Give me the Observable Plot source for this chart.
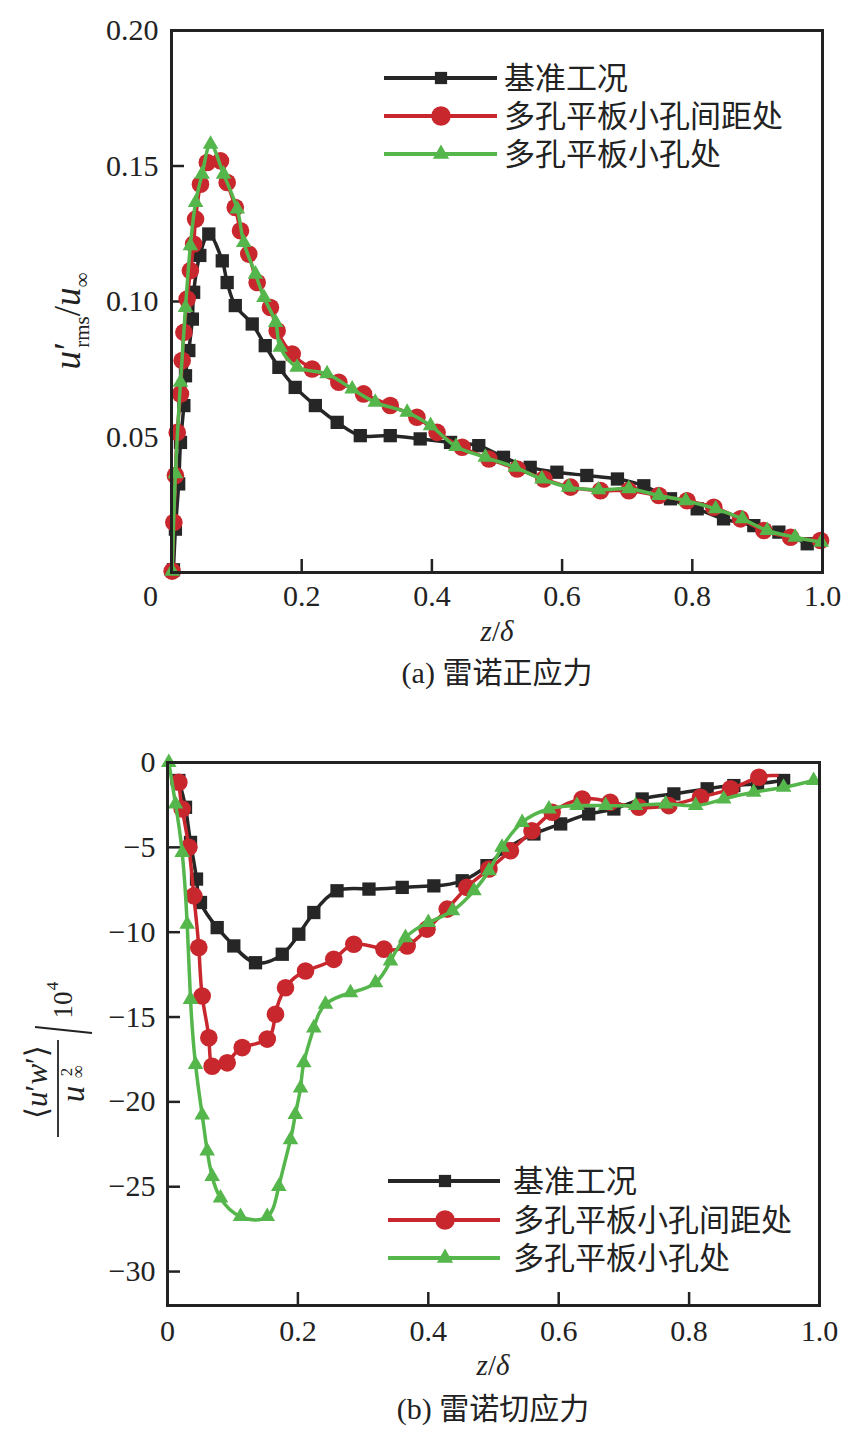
<!DOCTYPE html>
<html><head><meta charset="utf-8">
<script src="https://cdn.jsdelivr.net/npm/d3@7"></script>
<script src="https://cdn.jsdelivr.net/npm/@observablehq/plot@0.6"></script>
<style>
body{margin:0;background:#fff;}
#root{width:857px;}
#root svg{display:block;}
</style>
</head><body><div id="root"></div>
<script>
// ---------- data ----------
const seriesNames = ["基准工况", "多孔平板小孔间距处", "多孔平板小孔处"];
const seriesColors = ["#262626", "#c8272d", "#55b64c"];
const seriesSymbols = ["square", "circle", "triangle"];

// (a) Reynolds normal stress  u'rms/u∞  vs z/δ
const aBaseZ = [0.003,0.006,0.011,0.0138,0.019,0.0215,0.0266,0.032,0.034,0.0435,0.0573,0.078,0.0855,0.098,0.124,0.144,0.165,0.19,0.221,0.2545,0.29,0.336,0.382,0.4286,0.472,0.51,0.551,0.592,0.638,0.685,0.7255,0.7665,0.8075,0.848,0.8945,0.933,0.9765];
const aBaseV = [0.001,0.016,0.0327,0.048,0.0616,0.0726,0.0819,0.0935,0.1034,0.117,0.1249,0.115,0.107,0.0985,0.0917,0.0837,0.0757,0.0683,0.0616,0.0554,0.0505,0.0505,0.0493,0.048,0.0468,0.0425,0.0388,0.037,0.0358,0.0345,0.032,0.0272,0.0235,0.0198,0.0173,0.0149,0.0106];

const aGapZ = [0.001,0.0036,0.006,0.0088,0.0138,0.0164,0.019,0.024,0.029,0.034,0.037,0.0445,0.055,0.0753,0.0855,0.098,0.106,0.1187,0.1316,0.152,0.1623,0.1854,0.216,0.257,0.295,0.336,0.377,0.408,0.4465,0.4875,0.531,0.572,0.613,0.659,0.7025,0.7485,0.792,0.833,0.874,0.91,0.951,0.997];
const aGapV = [0.0005,0.0185,0.0358,0.0517,0.0659,0.0782,0.0886,0.1009,0.1114,0.1212,0.1304,0.1433,0.1513,0.1519,0.1439,0.1347,0.1261,0.1175,0.107,0.0978,0.0892,0.0806,0.0751,0.0702,0.0659,0.0616,0.0573,0.0517,0.0462,0.0419,0.0382,0.0345,0.0315,0.0302,0.0302,0.0284,0.0265,0.0241,0.0198,0.0155,0.013,0.0118];

const aHoleZ = [0.001,0.006,0.0138,0.0215,0.029,0.037,0.047,0.06,0.08,0.101,0.111,0.129,0.142,0.16,0.167,0.193,0.239,0.2775,0.313,0.362,0.398,0.437,0.482,0.528,0.569,0.61,0.656,0.7025,0.7485,0.79,0.836,0.877,0.915,0.958,0.998];
const aHoleV = [0.0005,0.0364,0.0702,0.0978,0.1206,0.1365,0.147,0.158,0.147,0.1341,0.1218,0.1101,0.1015,0.0923,0.0831,0.0757,0.0733,0.0677,0.0628,0.0591,0.0542,0.0465,0.0425,0.0388,0.0345,0.0315,0.0305,0.0309,0.0284,0.0265,0.0235,0.0198,0.0155,0.013,0.0112];

const aXTicks = [0.2, 0.4, 0.6, 0.8, 1.0];
const aCornerTick = [0];
const aYTicks = [0.05, 0.10, 0.15, 0.20];

// (b) Reynolds shear stress  <u'w'>/u∞² ×10^4  vs z/δ
const bBaseZ = [0.0174,0.0276,0.0353,0.0445,0.0506,0.0762,0.1017,0.135,0.176,0.2014,0.2244,0.26,0.309,0.36,0.4085,0.452,0.49,0.52,0.562,0.603,0.646,0.6846,0.728,0.7766,0.8277,0.8686,0.905,0.945];
const bBaseV = [-1.06,-2.64,-4.71,-6.87,-8.25,-9.73,-10.81,-11.8,-11.3,-10.12,-8.84,-7.56,-7.46,-7.36,-7.27,-6.97,-6.08,-5.1,-4.21,-3.62,-3.03,-2.74,-2.15,-1.85,-1.55,-1.36,-1.25,-1.06];

const bGapZ = [0.0174,0.0225,0.0327,0.0404,0.048,0.0532,0.0634,0.0685,0.0916,0.1146,0.153,0.1656,0.181,0.2117,0.255,0.2857,0.332,0.3676,0.398,0.429,0.459,0.493,0.526,0.559,0.59,0.636,0.679,0.723,0.769,0.8175,0.8635,0.907,0.935];
const bGapV = [-1.16,-2.74,-5.0,-7.86,-10.9,-13.76,-16.22,-17.9,-17.7,-16.8,-16.3,-14.84,-13.27,-12.29,-11.6,-10.71,-11.0,-10.81,-9.82,-8.64,-7.36,-6.28,-5.2,-4.02,-2.93,-2.15,-2.34,-2.64,-2.54,-2.05,-1.55,-0.87,-0.77];
const bGapMarked = bGapZ.length - 1; // last entry is the line's tail without a marker

const bHoleZ = [0.002,0.0123,0.0225,0.0302,0.0353,0.043,0.0532,0.0609,0.0685,0.0813,0.112,0.153,0.1707,0.1886,0.196,0.204,0.209,0.2244,0.2423,0.2807,0.319,0.342,0.365,0.4,0.437,0.47,0.493,0.513,0.544,0.585,0.628,0.672,0.718,0.764,0.81,0.853,0.899,0.945,0.991];
const bHoleV = [0,-2.44,-5.3,-9.53,-13.96,-17.8,-20.77,-22.9,-24.4,-25.67,-26.76,-26.76,-24.99,-22.23,-20.75,-19.18,-17.7,-15.64,-14.25,-13.57,-12.98,-11.7,-10.32,-9.43,-8.74,-7.56,-6.38,-5.0,-3.53,-2.74,-2.54,-2.54,-2.54,-2.44,-2.54,-2.15,-1.75,-1.46,-1.06];

const bXTicks = [0, 0.2, 0.4, 0.6, 0.8, 1.0];
const bYTicks = [0, -5, -10, -15, -20, -25, -30];

// ---------- helpers ----------
const serif = "'Liberation Serif','Times New Roman',serif";
const mixed = "'Liberation Serif','Noto Sans CJK SC',serif";
const ink = "#222";
const toRows = (z, v) => z.map((d, i) => ({z: d, v: v[i], i}));
const symR = {square: 7.5, circle: 8.8, triangle: 5.8};

function seriesMarks(rows, k, curve, markedCount) {
  const pts = markedCount == null ? rows : rows.filter(d => d.i < markedCount);
  return [
    Plot.line(rows, {x: "z", y: "v", stroke: seriesColors[k], strokeWidth: 3.5, curve}),
    Plot.dot(pts, {x: "z", y: "v", symbol: seriesSymbols[k], r: symR[seriesSymbols[k]], fill: seriesColors[k], stroke: "none"})
  ];
}

function addLegend(svg, x0, x1, xm, xt, ys) {
  const g = d3.select(svg).append("g");
  const symMap = {square: d3.symbolSquare, circle: d3.symbolCircle, triangle: d3.symbolTriangle};
  const symSize = {square: 150, circle: 300, triangle: 115};
  seriesNames.forEach((name, i) => {
    const y = ys[i];
    g.append("line").attr("x1", x0).attr("x2", x1).attr("y1", y).attr("y2", y)
      .attr("stroke", seriesColors[i]).attr("stroke-width", 4);
    g.append("path").attr("transform", `translate(${xm},${y})`)
      .attr("d", d3.symbol(symMap[seriesSymbols[i]], symSize[seriesSymbols[i]])())
      .attr("fill", seriesColors[i]);
    g.append("text").attr("x", xt).attr("y", y + 11).attr("text-anchor", "start")
      .attr("font-family", mixed).attr("font-size", 31).attr("fill", ink).text(name);
  });
}

function addText(svg, x, y, parts, anchor = "middle", fs = 29) {
  const t = d3.select(svg).append("text").attr("x", x).attr("y", y)
    .attr("text-anchor", anchor).attr("fill", ink).attr("font-family", mixed).attr("font-size", fs);
  parts.forEach(p => {
    const s = t.append("tspan").text(p.t);
    if (p.i) s.attr("font-style", "italic");
    if (p.fs) s.attr("font-size", p.fs);
  });
  return t;
}

// ---------- chart (a) ----------
const plotA = Plot.plot({
  width: 857, height: 700,
  marginLeft: 171, marginRight: 35, marginTop: 30, marginBottom: 128,
  x: {domain: [0, 1]},
  y: {domain: [0, 0.2]},
  style: {fontFamily: serif, fontSize: "30px", color: ink, background: "#fff"},
  marks: [
    Plot.axisX({ticks: aXTicks, tickFormat: d3.format(".1f"), tickSize: -13, tickPadding: 25, strokeWidth: 2.5, fontSize: 30, label: null}),
    Plot.axisY({ticks: aYTicks, tickFormat: d3.format(".2f"), tickSize: -13, tickPadding: 26, strokeWidth: 2.5, fontSize: 30, label: null}),
    Plot.text(aCornerTick, {x: d => d, frameAnchor: "bottom", lineAnchor: "top", dy: 12, dx: -21, text: d => String(d), fontSize: 30, fill: ink}),
    ...seriesMarks(toRows(aBaseZ, aBaseV), 0, "catmull-rom"),
    ...seriesMarks(toRows(aGapZ, aGapV), 1, "catmull-rom"),
    ...seriesMarks(toRows(aHoleZ, aHoleV), 2, "catmull-rom"),
    Plot.frame({stroke: ink, strokeWidth: 3})
  ]
});
document.getElementById("root").appendChild(plotA);
addLegend(plotA, 384, 497, 441, 504, [78, 116, 154]);
addText(plotA, 497, 641, [{t: "z", i: true}, {t: "/"}, {t: "δ", i: true}]);
addText(plotA, 497, 683, [{t: "(a) 雷诺正应力"}], "middle", 30);
// y label (a): u'rms / u∞
{
  const g = d3.select(plotA).append("g").attr("transform", "translate(80,321) rotate(-90)");
  const t = g.append("text").attr("text-anchor", "middle").attr("font-family", serif).attr("font-size", 37).attr("fill", ink);
  t.append("tspan").attr("font-style", "italic").text("u");
  t.append("tspan").attr("dx", 1).text("′");
  t.append("tspan").attr("font-size", 21).attr("dy", 9).attr("dx", -6).text("rms");
  t.append("tspan").attr("dy", -9).text("/");
  t.append("tspan").attr("font-style", "italic").text("u");
  t.append("tspan").attr("font-size", 21).attr("dy", 9).text("∞");
}

// ---------- chart (b) ----------
const plotB = Plot.plot({
  width: 857, height: 733,
  marginLeft: 167, marginRight: 38, marginTop: 62, marginBottom: 128,
  x: {domain: [0, 1]},
  y: {domain: [-32, 0]},
  style: {fontFamily: serif, fontSize: "30px", color: ink, background: "#fff"},
  marks: [
    Plot.axisX({ticks: bXTicks, tickFormat: d => d === 0 ? "0" : d3.format(".1f")(d), tickSize: -13, tickPadding: 27, strokeWidth: 2.5, fontSize: 30, label: null}),
    Plot.axisY({ticks: bYTicks, tickFormat: d => d === 0 ? "0" : d3.format("d")(d), tickSize: -13, tickPadding: 25, strokeWidth: 2.5, fontSize: 30, label: null}),
    ...seriesMarks(toRows(bBaseZ, bBaseV), 0, "natural"),
    ...seriesMarks(toRows(bGapZ, bGapV), 1, "natural", bGapMarked),
    ...seriesMarks(toRows(bHoleZ, bHoleV), 2, "natural"),
    Plot.frame({stroke: ink, strokeWidth: 3})
  ]
});
document.getElementById("root").appendChild(plotB);
addLegend(plotB, 388, 500, 445, 513, [481, 520, 558]);
addText(plotB, 493, 675, [{t: "z", i: true}, {t: "/"}, {t: "δ", i: true}]);
addText(plotB, 493, 719, [{t: "(b) 雷诺切应力"}], "middle", 30);
// y label (b): <u'w'> / u∞²  / 10^4
{
  const g = d3.select(plotB).append("g").attr("transform", "translate(60,385) rotate(-90)");
  const txt = (x, y, s, fs, it) => {
    const t = g.append("text").attr("x", x).attr("y", y).attr("font-size", fs)
      .attr("text-anchor", "middle").attr("font-family", serif).attr("fill", ink);
    if (it) t.attr("font-style", "italic");
    t.text(s);
    return t;
  };
  // numerator
  const num = g.append("text").attr("x", 3).attr("y", -13).attr("text-anchor", "middle").attr("font-size", 31).attr("font-family", "'DejaVu Serif','Liberation Serif',serif").attr("fill", ink);
  num.append("tspan").text("⟨");
  num.append("tspan").attr("font-family", serif).attr("font-style", "italic").text("u");
  num.append("tspan").attr("font-family", serif).text("′");
  num.append("tspan").attr("font-family", serif).attr("font-style", "italic").text("w");
  num.append("tspan").attr("font-family", serif).text("′");
  num.append("tspan").text("⟩");
  // fraction bar
  g.append("line").attr("x1", -52).attr("x2", 45).attr("y1", -2).attr("y2", -2).attr("stroke", ink).attr("stroke-width", 1.8);
  // denominator
  txt(-9, 24, "u", 33, true);
  txt(13, 24, "∞", 18, false);
  txt(13, 12, "2", 17, false);
  // big slash
  g.append("line").attr("x1", 58).attr("y1", -25).attr("x2", 52).attr("y2", 32).attr("stroke", ink).attr("stroke-width", 1.8);
  txt(80, 12, "10", 27, false);
  txt(99, -2, "4", 17, false);
}
</script>
</body></html>
